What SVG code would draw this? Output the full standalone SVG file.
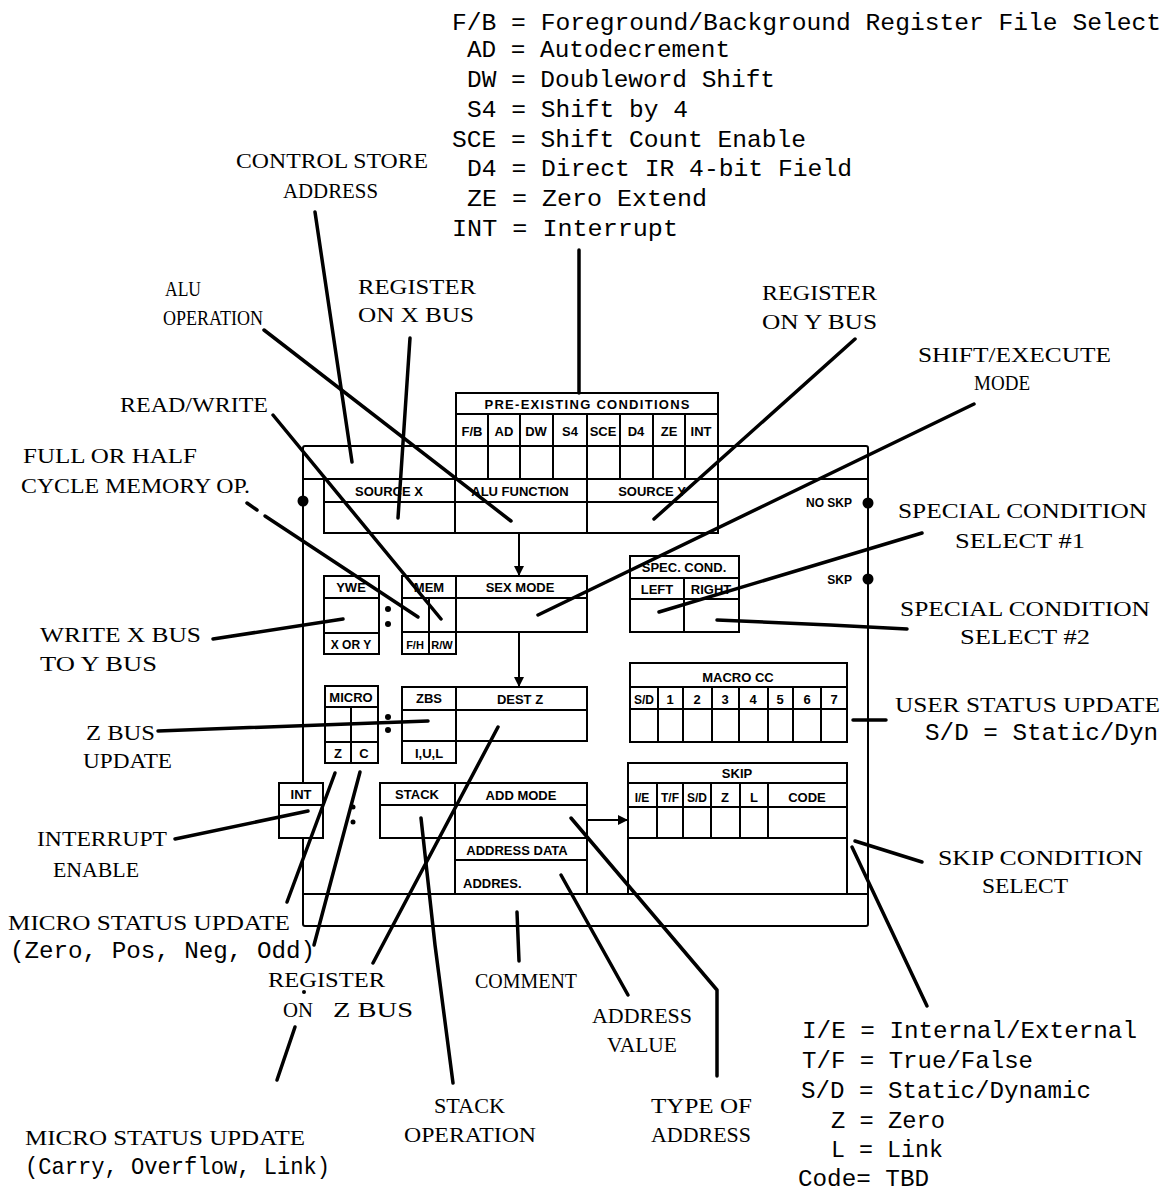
<svg xmlns="http://www.w3.org/2000/svg" width="1173" height="1199" viewBox="0 0 1173 1199">
<style>
.bx{fill:none;stroke:#000;stroke-width:2}
.bw{fill:#fff;stroke:#000;stroke-width:2}
.ln{stroke:#000;stroke-width:2;fill:none}
.cn{stroke:#000;stroke-width:3.5;fill:none;stroke-linecap:round;stroke-linejoin:round}
.s{font-family:"Liberation Sans",Arial,sans-serif;font-weight:bold;font-size:13px;fill:#000;text-anchor:middle}
.l{font-family:"Liberation Serif","Times New Roman",serif;font-size:22px;fill:#000}
.m{font-family:"Liberation Mono","Courier New",monospace;font-size:24px;fill:#000}
</style>
<defs>
<marker id="ah" viewBox="0 0 10 10" refX="10" refY="5" markerWidth="10" markerHeight="10" markerUnits="userSpaceOnUse" orient="auto">
<path d="M0,0 L10,5 L0,10 Z" fill="#000"/>
</marker>
</defs>
<rect width="1173" height="1199" fill="#fff"/>

<g id="frame">
<rect class="bx" x="303" y="446" width="565" height="480" rx="2"/>
<line class="ln" x1="303" y1="479" x2="868" y2="479"/>
<line class="ln" x1="303" y1="894" x2="868" y2="894"/>
<circle cx="303" cy="501" r="5.5"/>
<circle cx="868" cy="503" r="5.5"/>
<circle cx="868" cy="579" r="5.5"/>
<text class="s" x="852" y="507" style="text-anchor:end;font-size:12px">NO SKP</text>
<text class="s" x="852" y="584" style="text-anchor:end;font-size:12px">SKP</text>
<circle cx="388" cy="609" r="3"/><circle cx="388" cy="624" r="3"/>
<circle cx="388" cy="717" r="3"/><circle cx="388" cy="730" r="3"/>
<circle cx="353" cy="807" r="2.5"/><circle cx="353" cy="822" r="2.5"/>
</g>

<g id="preexisting">
<rect class="bw" x="456" y="393" width="262" height="86"/>
<line class="ln" x1="456" y1="414" x2="718" y2="414"/>
<line class="ln" x1="456" y1="446" x2="718" y2="446"/>
<line class="ln" x1="488" y1="414" x2="488" y2="479"/>
<line class="ln" x1="520" y1="414" x2="520" y2="479"/>
<line class="ln" x1="553" y1="414" x2="553" y2="479"/>
<line class="ln" x1="587" y1="414" x2="587" y2="479"/>
<line class="ln" x1="620" y1="414" x2="620" y2="479"/>
<line class="ln" x1="653" y1="414" x2="653" y2="479"/>
<line class="ln" x1="685" y1="414" x2="685" y2="479"/>
<text class="s" x="587" y="409" textLength="205" lengthAdjust="spacing">PRE-EXISTING CONDITIONS</text>
<text class="s" x="472" y="436">F/B</text>
<text class="s" x="504" y="436">AD</text>
<text class="s" x="536" y="436">DW</text>
<text class="s" x="570" y="436">S4</text>
<text class="s" x="603" y="436">SCE</text>
<text class="s" x="636" y="436">D4</text>
<text class="s" x="669" y="436">ZE</text>
<text class="s" x="701" y="436">INT</text>
</g>

<g id="source">
<rect class="bw" x="324" y="479" width="394" height="54"/>
<line class="ln" x1="324" y1="502" x2="718" y2="502"/>
<line class="ln" x1="455" y1="479" x2="455" y2="533"/>
<line class="ln" x1="587" y1="479" x2="587" y2="533"/>
<text class="s" x="389" y="496">SOURCE X</text>
<text class="s" x="520" y="496">ALU FUNCTION</text>
<text class="s" x="652" y="496">SOURCE Y</text>
</g>

<g id="ywe">
<rect class="bw" x="324" y="576" width="55" height="78"/>
<line class="ln" x1="324" y1="598" x2="379" y2="598"/>
<line class="ln" x1="324" y1="633" x2="379" y2="633"/>
<text class="s" x="351" y="592">YWE</text>
<text class="s" x="351" y="649" style="font-size:12px">X OR Y</text>
</g>

<g id="memsex">
<rect class="bw" x="402" y="576" width="185" height="56"/>
<line class="ln" x1="402" y1="598" x2="587" y2="598"/>
<line class="ln" x1="456" y1="576" x2="456" y2="632"/>
<rect class="bw" x="402" y="632" width="54" height="22"/>
<line class="ln" x1="429" y1="598" x2="429" y2="654"/>
<text class="s" x="429" y="592">MEM</text>
<text class="s" x="520" y="592">SEX MODE</text>
<text class="s" x="415" y="649" style="font-size:11px">F/H</text>
<text class="s" x="442" y="649" style="font-size:11px">R/W</text>
</g>

<g id="micro">
<rect class="bw" x="325" y="686" width="53" height="77"/>
<line class="ln" x1="325" y1="707" x2="378" y2="707"/>
<line class="ln" x1="325" y1="742" x2="378" y2="742"/>
<line class="ln" x1="351" y1="707" x2="351" y2="763"/>
<text class="s" x="351" y="702">MICRO</text>
<text class="s" x="338" y="758">Z</text>
<text class="s" x="364" y="758">C</text>
</g>

<g id="zbsdest">
<rect class="bw" x="402" y="687" width="185" height="54"/>
<line class="ln" x1="402" y1="710" x2="587" y2="710"/>
<line class="ln" x1="456" y1="687" x2="456" y2="741"/>
<rect class="bw" x="402" y="741" width="54" height="22"/>
<text class="s" x="429" y="703">ZBS</text>
<text class="s" x="520" y="704">DEST Z</text>
<text class="s" x="429" y="758">I,U,L</text>
</g>

<g id="int">
<rect class="bw" x="279" y="783" width="44" height="55"/>
<line class="ln" x1="279" y1="805" x2="323" y2="805"/>
<text class="s" x="301" y="799">INT</text>
</g>

<g id="stackadd">
<rect class="bw" x="380" y="783" width="75" height="55"/>
<rect class="bw" x="455" y="783" width="132" height="111"/>
<line class="ln" x1="380" y1="805" x2="587" y2="805"/>
<line class="ln" x1="455" y1="838" x2="587" y2="838"/>
<line class="ln" x1="455" y1="860" x2="587" y2="860"/>
<text class="s" x="417" y="799">STACK</text>
<text class="s" x="521" y="800">ADD MODE</text>
<text class="s" x="517" y="855">ADDRESS DATA</text>
<text class="s" x="463" y="888" style="text-anchor:start">ADDRES.</text>
</g>

<g id="speccond">
<rect class="bw" x="630" y="556" width="109" height="76"/>
<line class="ln" x1="630" y1="578" x2="739" y2="578"/>
<line class="ln" x1="630" y1="599" x2="739" y2="599"/>
<line class="ln" x1="684" y1="578" x2="684" y2="632"/>
<text class="s" x="684" y="572">SPEC. COND.</text>
<text class="s" x="657" y="594">LEFT</text>
<text class="s" x="711" y="594">RIGHT</text>
</g>

<g id="macrocc">
<rect class="bw" x="630" y="663" width="217" height="79"/>
<line class="ln" x1="630" y1="687" x2="847" y2="687"/>
<line class="ln" x1="630" y1="709" x2="847" y2="709"/>
<line class="ln" x1="658" y1="687" x2="658" y2="742"/>
<line class="ln" x1="683" y1="687" x2="683" y2="742"/>
<line class="ln" x1="712" y1="687" x2="712" y2="742"/>
<line class="ln" x1="739" y1="687" x2="739" y2="742"/>
<line class="ln" x1="768" y1="687" x2="768" y2="742"/>
<line class="ln" x1="793" y1="687" x2="793" y2="742"/>
<line class="ln" x1="821" y1="687" x2="821" y2="742"/>
<text class="s" x="738" y="682">MACRO CC</text>
<text class="s" x="644" y="704" style="font-size:12px">S/D</text>
<text class="s" x="670" y="704">1</text>
<text class="s" x="697" y="704">2</text>
<text class="s" x="725" y="704">3</text>
<text class="s" x="753" y="704">4</text>
<text class="s" x="780" y="704">5</text>
<text class="s" x="807" y="704">6</text>
<text class="s" x="834" y="704">7</text>
</g>

<g id="skip">
<rect class="bw" x="628" y="763" width="219" height="131"/>
<line class="ln" x1="628" y1="783" x2="847" y2="783"/>
<line class="ln" x1="628" y1="807" x2="847" y2="807"/>
<line class="ln" x1="628" y1="838" x2="847" y2="838"/>
<line class="ln" x1="657" y1="783" x2="657" y2="838"/>
<line class="ln" x1="683" y1="783" x2="683" y2="838"/>
<line class="ln" x1="711" y1="783" x2="711" y2="838"/>
<line class="ln" x1="740" y1="783" x2="740" y2="838"/>
<line class="ln" x1="768" y1="783" x2="768" y2="838"/>
<text class="s" x="737" y="778">SKIP</text>
<text class="s" x="642" y="802" style="font-size:12px">I/E</text>
<text class="s" x="670" y="802" style="font-size:12px">T/F</text>
<text class="s" x="697" y="802" style="font-size:12px">S/D</text>
<text class="s" x="725" y="802">Z</text>
<text class="s" x="754" y="802">L</text>
<text class="s" x="807" y="802">CODE</text>
</g>

<g id="connectors">
<line class="ln" x1="519" y1="533" x2="519" y2="576" marker-end="url(#ah)"/>
<line class="ln" x1="519" y1="632" x2="519" y2="687" marker-end="url(#ah)"/>
<line class="ln" x1="587" y1="820" x2="628" y2="820" marker-end="url(#ah)"/>
<line class="cn" x1="579" y1="250" x2="579" y2="393"/>
<line class="cn" x1="315" y1="212" x2="352" y2="462"/>
<line class="cn" x1="264" y1="330" x2="511" y2="521"/>
<line class="cn" x1="410" y1="338" x2="398" y2="518"/>
<line class="cn" x1="855" y1="339" x2="654" y2="519"/>
<line class="cn" x1="974" y1="404" x2="538" y2="615"/>
<line class="cn" x1="273" y1="415" x2="441" y2="619"/>
<line class="cn" x1="247" y1="503" x2="257" y2="510"/>
<line class="cn" x1="265" y1="516" x2="418" y2="617"/>
<line class="cn" x1="213" y1="639" x2="343" y2="619"/>
<line class="cn" x1="158" y1="731" x2="428" y2="721"/>
<line class="cn" x1="175" y1="839" x2="308" y2="811"/>
<line class="cn" x1="287" y1="902" x2="335" y2="773"/>
<line class="cn" x1="360" y1="772" x2="314" y2="945"/>
<circle cx="304" cy="992" r="2"/>
<line class="cn" x1="295" y1="1027" x2="277" y2="1080"/>
<line class="cn" x1="373" y1="963" x2="498" y2="727"/>
<polyline class="cn" points="421,818 435,945 453,1083"/>
<line class="cn" x1="517" y1="912" x2="519" y2="961"/>
<line class="cn" x1="561" y1="875" x2="628" y2="995"/>
<polyline class="cn" points="571,818 717,990 717,1076"/>
<line class="cn" x1="922" y1="533" x2="659" y2="612"/>
<polyline class="cn" points="717,620 830,625 907,629"/>
<line class="cn" x1="853" y1="720" x2="886" y2="720"/>
<line class="cn" x1="922" y1="862" x2="855" y2="841"/>
<line class="cn" x1="927" y1="1006" x2="852" y2="847"/>
</g>

<g id="legend-top">
<text class="m" x="452" y="30" textLength="709" lengthAdjust="spacingAndGlyphs">F/B = Foreground/Background Register File Select</text>
<text class="m" x="467" y="57" textLength="263" lengthAdjust="spacingAndGlyphs">AD = Autodecrement</text>
<text class="m" x="467" y="87" textLength="308" lengthAdjust="spacingAndGlyphs">DW = Doubleword Shift</text>
<text class="m" x="467" y="117" textLength="221" lengthAdjust="spacingAndGlyphs">S4 = Shift by 4</text>
<text class="m" x="452" y="147" textLength="354" lengthAdjust="spacingAndGlyphs">SCE = Shift Count Enable</text>
<text class="m" x="467" y="176" textLength="385" lengthAdjust="spacingAndGlyphs">D4 = Direct IR 4-bit Field</text>
<text class="m" x="467" y="206" textLength="240" lengthAdjust="spacingAndGlyphs">ZE = Zero Extend</text>
<text class="m" x="452" y="236" textLength="226" lengthAdjust="spacingAndGlyphs">INT = Interrupt</text>
</g>

<g id="legend-skip">
<text class="m" x="802" y="1038" textLength="335" lengthAdjust="spacingAndGlyphs">I/E = Internal/External</text>
<text class="m" x="802" y="1068" textLength="231" lengthAdjust="spacingAndGlyphs">T/F = True/False</text>
<text class="m" x="801" y="1098" textLength="290" lengthAdjust="spacingAndGlyphs">S/D = Static/Dynamic</text>
<text class="m" x="831" y="1128" textLength="114" lengthAdjust="spacingAndGlyphs">Z = Zero</text>
<text class="m" x="831" y="1157" textLength="112" lengthAdjust="spacingAndGlyphs">L = Link</text>
<text class="m" x="798" y="1186" textLength="131" lengthAdjust="spacingAndGlyphs">Code= TBD</text>
</g>

<g id="labels">
<text class="l" x="236" y="168" textLength="192" lengthAdjust="spacingAndGlyphs">CONTROL STORE</text>
<text class="l" x="283" y="198" textLength="95" lengthAdjust="spacingAndGlyphs">ADDRESS</text>
<text class="l" x="165" y="296" textLength="36" lengthAdjust="spacingAndGlyphs">ALU</text>
<text class="l" x="163" y="325" textLength="100" lengthAdjust="spacingAndGlyphs">OPERATION</text>
<text class="l" x="358" y="294" textLength="118" lengthAdjust="spacingAndGlyphs">REGISTER</text>
<text class="l" x="358" y="322" textLength="116" lengthAdjust="spacingAndGlyphs">ON X BUS</text>
<text class="l" x="762" y="300" textLength="115" lengthAdjust="spacingAndGlyphs">REGISTER</text>
<text class="l" x="762" y="329" textLength="115" lengthAdjust="spacingAndGlyphs">ON Y BUS</text>
<text class="l" x="918" y="362" textLength="193" lengthAdjust="spacingAndGlyphs">SHIFT/EXECUTE</text>
<text class="l" x="974" y="390" textLength="56" lengthAdjust="spacingAndGlyphs">MODE</text>
<text class="l" x="120" y="412" textLength="148" lengthAdjust="spacingAndGlyphs">READ/WRITE</text>
<text class="l" x="23" y="463" textLength="174" lengthAdjust="spacingAndGlyphs">FULL OR HALF</text>
<text class="l" x="21" y="493" textLength="229" lengthAdjust="spacingAndGlyphs">CYCLE MEMORY OP.</text>
<text class="l" x="40" y="642" textLength="161" lengthAdjust="spacingAndGlyphs">WRITE X BUS</text>
<text class="l" x="40" y="671" textLength="117" lengthAdjust="spacingAndGlyphs">TO Y BUS</text>
<text class="l" x="86" y="740" textLength="69" lengthAdjust="spacingAndGlyphs">Z BUS</text>
<text class="l" x="83" y="768" textLength="89" lengthAdjust="spacingAndGlyphs">UPDATE</text>
<text class="l" x="37" y="846" textLength="130" lengthAdjust="spacingAndGlyphs">INTERRUPT</text>
<text class="l" x="53" y="877" textLength="86" lengthAdjust="spacingAndGlyphs">ENABLE</text>
<text class="l" x="8" y="930" textLength="282" lengthAdjust="spacingAndGlyphs">MICRO STATUS UPDATE</text>
<text class="m" x="10" y="958" textLength="305" lengthAdjust="spacingAndGlyphs">(Zero, Pos, Neg, Odd)</text>
<text class="l" x="268" y="987" textLength="117" lengthAdjust="spacingAndGlyphs">REGISTER</text>
<text class="l" x="283" y="1017" textLength="30" lengthAdjust="spacingAndGlyphs">ON</text>
<text class="l" x="333" y="1017" textLength="80" lengthAdjust="spacingAndGlyphs">Z BUS</text>
<text class="l" x="475" y="988" textLength="102" lengthAdjust="spacingAndGlyphs">COMMENT</text>
<text class="l" x="592" y="1023" textLength="100" lengthAdjust="spacingAndGlyphs">ADDRESS</text>
<text class="l" x="607" y="1052" textLength="70" lengthAdjust="spacingAndGlyphs">VALUE</text>
<text class="l" x="434" y="1113" textLength="71" lengthAdjust="spacingAndGlyphs">STACK</text>
<text class="l" x="404" y="1142" textLength="132" lengthAdjust="spacingAndGlyphs">OPERATION</text>
<text class="l" x="651" y="1113" textLength="101" lengthAdjust="spacingAndGlyphs">TYPE OF</text>
<text class="l" x="651" y="1142" textLength="100" lengthAdjust="spacingAndGlyphs">ADDRESS</text>
<text class="l" x="25" y="1145" textLength="280" lengthAdjust="spacingAndGlyphs">MICRO STATUS UPDATE</text>
<text class="m" x="25" y="1174" textLength="305" lengthAdjust="spacingAndGlyphs">(Carry, Overflow, Link)</text>
<text class="l" x="898" y="518" textLength="249" lengthAdjust="spacingAndGlyphs">SPECIAL CONDITION</text>
<text class="l" x="955" y="548" textLength="130" lengthAdjust="spacingAndGlyphs">SELECT #1</text>
<text class="l" x="900" y="616" textLength="250" lengthAdjust="spacingAndGlyphs">SPECIAL CONDITION</text>
<text class="l" x="960" y="644" textLength="130" lengthAdjust="spacingAndGlyphs">SELECT #2</text>
<text class="l" x="895" y="712" textLength="265" lengthAdjust="spacingAndGlyphs">USER STATUS UPDATE</text>
<text class="m" x="925" y="740" textLength="233" lengthAdjust="spacingAndGlyphs">S/D = Static/Dyn</text>
<text class="l" x="938" y="865" textLength="205" lengthAdjust="spacingAndGlyphs">SKIP CONDITION</text>
<text class="l" x="982" y="893" textLength="86" lengthAdjust="spacingAndGlyphs">SELECT</text>
</g>
</svg>
